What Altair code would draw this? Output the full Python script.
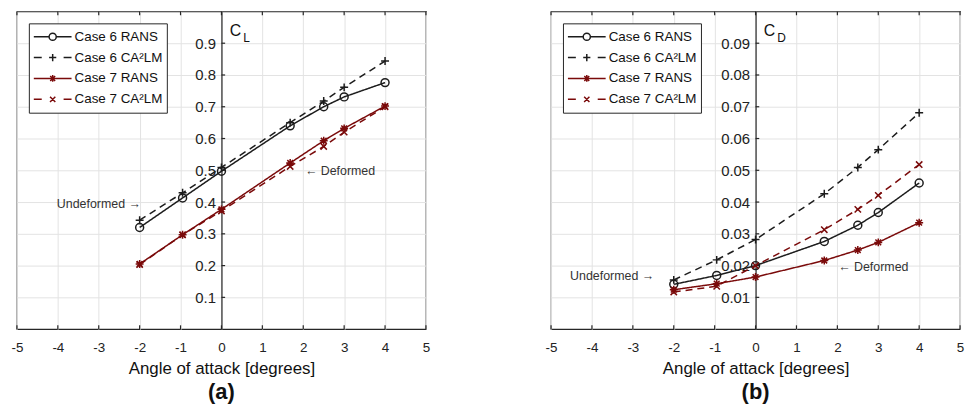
import altair as alt
import pandas as pd

# ---------------- data ----------------
alpha = [-2.0, -0.95, 0.0, 1.68, 2.5, 3.0, 4.0]
series = ["Case 6 RANS", "Case 6 CA²LM", "Case 7 RANS", "Case 7 CA²LM"]

cl_case6_rans = [0.320, 0.413, 0.497, 0.640, 0.700, 0.731, 0.776]
cl_case6_ca2lm = [0.343, 0.429, 0.509, 0.650, 0.718, 0.761, 0.844]
cl_case7_rans = [0.205, 0.297, 0.377, 0.523, 0.593, 0.632, 0.702]
cl_case7_ca2lm = [0.203, 0.297, 0.372, 0.512, 0.575, 0.620, 0.700]

cd_case6_rans = [0.0141, 0.0169, 0.0200, 0.0276, 0.0327, 0.0367, 0.0460]
cd_case6_ca2lm = [0.0155, 0.0218, 0.0282, 0.0426, 0.0509, 0.0565, 0.0681]
cd_case7_rans = [0.0124, 0.0143, 0.0164, 0.0216, 0.0249, 0.0273, 0.0335]
cd_case7_ca2lm = [0.0117, 0.0135, 0.0200, 0.0313, 0.0377, 0.0421, 0.0518]

x_ticks = [-5, -4, -3, -2, -1, 0, 1, 2, 3, 4, 5]
cl_ticks = [0.1, 0.2, 0.3, 0.4, 0.5, 0.6, 0.7, 0.8, 0.9]
cd_ticks = [0.01, 0.02, 0.03, 0.04, 0.05, 0.06, 0.07, 0.08, 0.09]

# ---------------- styles ----------------
FONT = "Liberation Sans"
DARK = "#1c1c1c"
RED = "#7a0a0a"
FRAME = "#262626"
GRID = "#e3e3e3"
colors = [DARK, DARK, RED, RED]
dashes = [[1, 0], [7, 5], [1, 0], [7, 5]]

PLOT_SHAPES = [
    "circle",
    "M-1,0H1M0,-1V1",
    "M-1,0H1M0,-1V1M-0.72,-0.72L0.72,0.72M-0.72,0.72L0.72,-0.72",
    "M-0.8,-0.8L0.8,0.8M-0.8,0.8L0.8,-0.8",
]
LEGEND_SHAPES = [
    "M-1,0H-0.19M0.19,0H1M-0.19,0A0.19,0.19 0 1,0 0.19,0A0.19,0.19 0 1,0 -0.19,0",
    "M-1,0H-0.58M0.58,0H1M-0.19,0H0.19M0,-0.19V0.19",
    "M-1,0H1M0,-0.18V0.18M-0.13,-0.13L0.13,0.13M-0.13,0.13L0.13,-0.13",
    "M-1,0H-0.58M0.58,0H1M-0.14,-0.14L0.14,0.14M-0.14,0.14L0.14,-0.14",
]

W, H = 412, 320


def make_panel(values, ymax, yticks, yfmt, sub, annots, letter):
    rows = []
    for name, vals in zip(series, values):
        for a, v in zip(alpha, vals):
            rows.append({"alpha": a, "value": v, "series": name})
    df = pd.DataFrame(rows)

    xs = alt.Scale(domain=[-5, 5], nice=False, zero=False)
    ys = alt.Scale(domain=[0, ymax], nice=False, zero=False)
    ax = alt.Axis(values=x_ticks, title="Angle of attack [degrees]", grid=True,
                  gridColor=GRID, gridWidth=1, ticks=False, domain=False,
                  labelPadding=12, labelFontSize=13.5, labelColor="#222",
                  labelFlush=False, labelOverlap=False,
                  labelExpr="'' + datum.value",
                  titleFontSize=17, titleFontWeight="normal", titleColor="#111",
                  titlePadding=6)
    ay = alt.Axis(values=yticks, title=None, offset=-W / 2, grid=True,
                  gridColor=GRID, gridWidth=1, ticks=False, domain=True,
                  domainColor=FRAME, domainWidth=1.2, labelPadding=6,
                  labelFontSize=15, labelColor="#222", format=yfmt,
                  labelFlush=False, labelOverlap=False)
    X = alt.X("alpha:Q", scale=xs, axis=ax)
    Y = alt.Y("value:Q", scale=ys, axis=ay)

    layers = []
    # inward tick marks on bottom / top / y axis
    xt_bottom = pd.DataFrame({"alpha": x_ticks, "value": [0.0] * len(x_ticks),
                              "value2": [ymax * 0.012] * len(x_ticks)})
    xt_top = pd.DataFrame({"alpha": x_ticks, "value": [ymax * 0.988] * len(x_ticks),
                           "value2": [ymax] * len(x_ticks)})
    yt = pd.DataFrame({"alpha": [0.0] * len(yticks), "alpha2": [0.09] * len(yticks),
                       "value": yticks})
    for d in (xt_bottom, xt_top):
        layers.append(alt.Chart(d).mark_rule(color=FRAME, strokeWidth=1.2).encode(
            x=X, y=Y, y2="value2:Q"))
    layers.append(alt.Chart(yt).mark_rule(color=FRAME, strokeWidth=1.2).encode(
        x=X, x2="alpha2:Q", y=Y))

    for name, shp, col, dsh in zip(series, PLOT_SHAPES, colors, dashes):
        sub_df = alt.Chart(df).transform_filter(alt.datum.series == name)
        layers.append(sub_df.mark_line(strokeWidth=1.5, color=col, strokeDash=dsh)
                      .encode(x=X, y=Y))
        layers.append(sub_df.mark_point(shape=shp, filled=False, size=64,
                                        strokeWidth=1.5, color=col, opacity=1)
                      .encode(x=X, y=Y))
    # legend carrier (draws nothing in the plot)
    legend = alt.Legend(title=None, orient="top-left", offset=12, padding=4,
                        strokeColor=FRAME, fillColor="white", cornerRadius=0,
                        symbolSize=1444, symbolStrokeWidth=1.5, clipHeight=19,
                        rowPadding=2, labelOffset=2, labelFontSize=13.5,
                        labelFont=FONT, labelColor="#111", labelLimit=300,
                        symbolOpacity=1)
    layers.append(
        alt.Chart(df)
        .mark_point(filled=False, strokeWidth=0, size=0, opacity=0)
        .encode(
            x=X, y=Y,
            color=alt.Color("series:N", scale=alt.Scale(domain=series, range=colors), legend=legend),
            shape=alt.Shape("series:N", scale=alt.Scale(domain=series, range=LEGEND_SHAPES), legend=legend),
        )
    )
    # C_L / C_D label
    lab = pd.DataFrame({"alpha": [0.2, 0.53], "value": [ymax * 0.924, ymax * 0.903],
                        "txt": ["C", sub]})
    layers.append(alt.Chart(lab.iloc[[0]]).mark_text(
        align="left", baseline="alphabetic", font=FONT, fontSize=16, color="#111"
    ).encode(x=X, y=Y, text="txt:N"))
    layers.append(alt.Chart(lab.iloc[[1]]).mark_text(
        align="left", baseline="alphabetic", font=FONT, fontSize=12, color="#111"
    ).encode(x=X, y=Y, text="txt:N"))
    # annotations
    for txt, ax_, ay_, al in annots:
        d = pd.DataFrame({"alpha": [ax_], "value": [ay_], "txt": [txt]})
        layers.append(alt.Chart(d).mark_text(
            align=al, baseline="middle", font=FONT, fontSize=12.5, color="#333"
        ).encode(x=X, y=Y, text="txt:N"))

    return alt.layer(*layers).properties(
        width=W, height=H,
        title=alt.TitleParams(letter, orient="bottom", fontSize=22, fontWeight="bold",
                              font=FONT, color="#111", offset=6, anchor="middle"),
    )


left = make_panel([cl_case6_rans, cl_case6_ca2lm, cl_case7_rans, cl_case7_ca2lm],
                  1.0, cl_ticks, ".1f", "L",
                  [("Undeformed →", -1.97, 0.395, "right"),
                   ("← Deformed", 2.04, 0.497, "left")], "(a)")
right = make_panel([cd_case6_rans, cd_case6_ca2lm, cd_case7_rans, cd_case7_ca2lm],
                   0.1, cd_ticks, ".2f", "D",
                   [("Undeformed →", -2.48, 0.0166, "right"),
                    ("← Deformed", 2.02, 0.0197, "left")], "(b)")

chart = alt.hconcat(left, right, spacing=126, bounds="flush").resolve_scale(
    color="independent", shape="independent"
).resolve_legend(
    color="independent", shape="independent"
).properties(
    padding={"left": 2, "top": 0, "right": 5, "bottom": 5}
).configure_view(stroke=FRAME, strokeWidth=1.2).configure_axis(
    labelFont=FONT, titleFont=FONT
).configure_text(font=FONT)

chart.save("out.html", embed_options={"renderer": "svg", "actions": False})
